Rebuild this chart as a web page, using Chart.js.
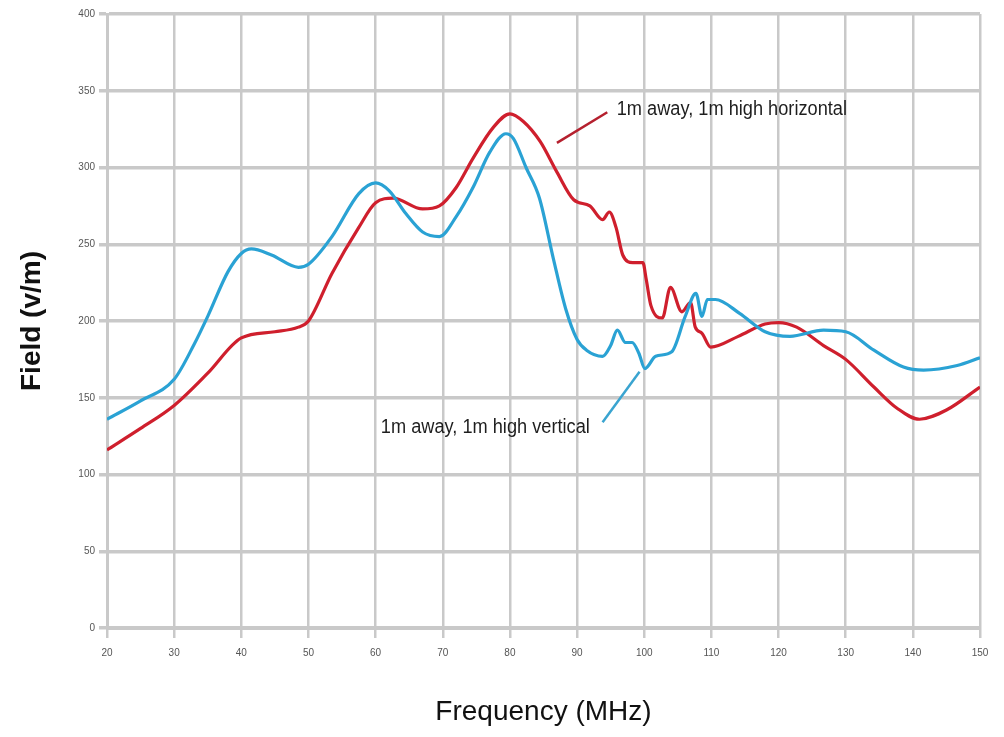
<!DOCTYPE html>
<html>
<head>
<meta charset="utf-8">
<script src="https://cdn.jsdelivr.net/npm/chart.js@4.4.1/dist/chart.umd.min.js"></script>
<style>
  html, body { margin: 0; padding: 0; background: #ffffff; }
  #wrap { width: 1004px; height: 737px; }
</style>
</head>
<body>
<div id="wrap"><canvas id="chart" width="1004" height="737"></canvas></div>
<script>
  // frequency (MHz) / field (v/m)
  var vertFreq = [20, 25, 30, 33, 35, 38, 40, 41.5, 44.5, 48.5, 50, 53.5, 57.5, 60, 62, 64.5, 67, 69.5, 72, 74.5, 77, 79.4, 80.5, 82.4, 84.4, 86.5, 88.3, 90, 91.4, 93.8, 95, 96, 97.2, 98.2, 99.2, 100.1, 101.7, 104.1, 106.1, 107.7, 108.6, 109.4, 110.6, 114.2, 118, 121.7, 126.7, 130, 134.2, 138.6, 141.6, 146.6, 150];
  var vertField = [136, 148, 162, 185, 203, 232, 244, 247, 243, 235, 237, 255, 283, 290, 285, 270, 258, 255, 268, 287, 310, 322, 319, 300, 280, 240, 208, 188, 181, 177, 184, 194, 186, 186, 179, 169, 177, 180, 203, 218, 203, 214, 214, 205, 193, 190, 194, 193, 181, 170, 168, 171, 176];

  var horizFreq = [20, 25, 30, 35, 40, 45, 48.5, 50, 53.5, 57.5, 60, 62.6, 67, 69.5, 72, 74.5, 77.5, 80, 82, 84.5, 87, 89.5, 91.9, 93.8, 94.8, 95.8, 96.8, 98.3, 99.8, 100.3, 101, 102.7, 103.9, 105.6, 106.9, 107.6, 108.6, 109.9, 114, 118, 120, 122.7, 126.7, 130, 134.2, 137.7, 141, 145, 150];
  var horizField = [116, 130, 145, 166, 189, 193, 196, 200, 231, 261, 277, 280, 273, 275, 287, 306, 326, 335, 330, 317, 297, 279, 275, 266, 271, 261, 243, 238, 238, 227, 210, 202, 222, 206, 212, 196, 192, 183, 190, 198, 199, 196, 184, 175, 157, 143, 136, 142, 157];

  var xTicks = [20, 30, 40, 50, 60, 70, 80, 90, 100, 110, 120, 130, 140, 150];
  var yTicks = [0, 50, 100, 150, 200, 250, 300, 350, 400];

  // callouts in data units: text anchor and pointer line
  var horizLabel = { text: "1m away, 1m high horizontal", x: 95.9, y: 338, from: [94.5, 336], to: [87.0, 316] };
  var vertLabel = { text: "1m away, 1m high vertical", x: 91.9, y: 130.5, from: [93.8, 134], to: [99.3, 167] };

  var RED = "#cf1f2d";
  var BLUE = "#2aa2d4";
  var GRID = "#c9c9c9";
  var SANS = "'Liberation Sans', Arial, sans-serif";

  function toPoints(xs, ys) {
    return xs.map(function (x, i) {
      return { x: x, y: ys[i] };
    });
  }

  function drawCallout(chart, lab, color, alignRight) {
    var xs = chart.scales.x;
    var ys = chart.scales.y;
    var ctx = chart.ctx;
    var squeeze = 0.91;
    ctx.save();
    ctx.strokeStyle = color;
    ctx.lineWidth = 2.5;
    ctx.beginPath();
    ctx.moveTo(xs.getPixelForValue(lab.from[0]), ys.getPixelForValue(lab.from[1]));
    ctx.lineTo(xs.getPixelForValue(lab.to[0]), ys.getPixelForValue(lab.to[1]));
    ctx.stroke();
    // the original uses a condensed face, so squeeze the text horizontally
    ctx.translate(xs.getPixelForValue(lab.x), ys.getPixelForValue(lab.y));
    ctx.scale(squeeze, 1);
    ctx.font = "20px " + SANS;
    ctx.fillStyle = "#1e1e1e";
    ctx.textBaseline = "middle";
    ctx.textAlign = alignRight ? "right" : "left";
    ctx.fillText(lab.text, 0, 0);
    ctx.restore();
  }

  var calloutPlugin = {
    id: "callouts",
    afterDatasetsDraw: function (chart) {
      drawCallout(chart, horizLabel, "#b5202e", false);
      drawCallout(chart, vertLabel, "#3aa4d0", true);
    }
  };

  new Chart(document.getElementById("chart"), {
    type: "line",
    data: {
      datasets: [
        {
          label: "1m away, 1m high vertical",
          data: toPoints(vertFreq, vertField),
          borderColor: BLUE,
          borderWidth: 3.2,
          pointRadius: 0,
          cubicInterpolationMode: "monotone",
          fill: false
        },
        {
          label: "1m away, 1m high horizontal",
          data: toPoints(horizFreq, horizField),
          borderColor: RED,
          borderWidth: 3.2,
          pointRadius: 0,
          cubicInterpolationMode: "monotone",
          fill: false
        }
      ]
    },
    options: {
      responsive: false,
      animation: false,
      devicePixelRatio: 1,
      layout: { padding: { top: 14, right: 24, left: 0, bottom: 0 } },
      plugins: {
        legend: { display: false },
        tooltip: { enabled: false }
      },
      scales: {
        x: {
          type: "linear",
          min: 20,
          max: 150,
          afterBuildTicks: function (scale) {
            scale.ticks = xTicks.map(function (v) { return { value: v }; });
          },
          afterFit: function (scale) { scale.height = 109; },
          grid: { color: GRID, lineWidth: 2.5, tickLength: 10, tickColor: GRID },
          border: { color: GRID, width: 3 },
          ticks: { color: "#555555", padding: 9, font: { size: 10, family: SANS }, maxRotation: 0 },
          title: {
            display: true,
            text: "Frequency (MHz)",
            color: "#111111",
            font: { size: 28, family: SANS },
            padding: { top: 0, bottom: 8 }
          }
        },
        y: {
          min: 0,
          max: 400,
          afterBuildTicks: function (scale) {
            scale.ticks = yTicks.map(function (v) { return { value: v }; });
          },
          afterFit: function (scale) { scale.width = 107; },
          grid: { color: GRID, lineWidth: 3.5, tickLength: 8, tickColor: GRID },
          border: { color: GRID, width: 3 },
          ticks: { color: "#555555", padding: 4, font: { size: 10, family: SANS } },
          title: {
            display: true,
            text: "Field (v/m)",
            color: "#111111",
            font: { size: 28, weight: "bold", family: SANS },
            padding: { top: 15, bottom: 0 }
          }
        }
      }
    },
    plugins: [calloutPlugin]
  });
</script>
</body>
</html>
